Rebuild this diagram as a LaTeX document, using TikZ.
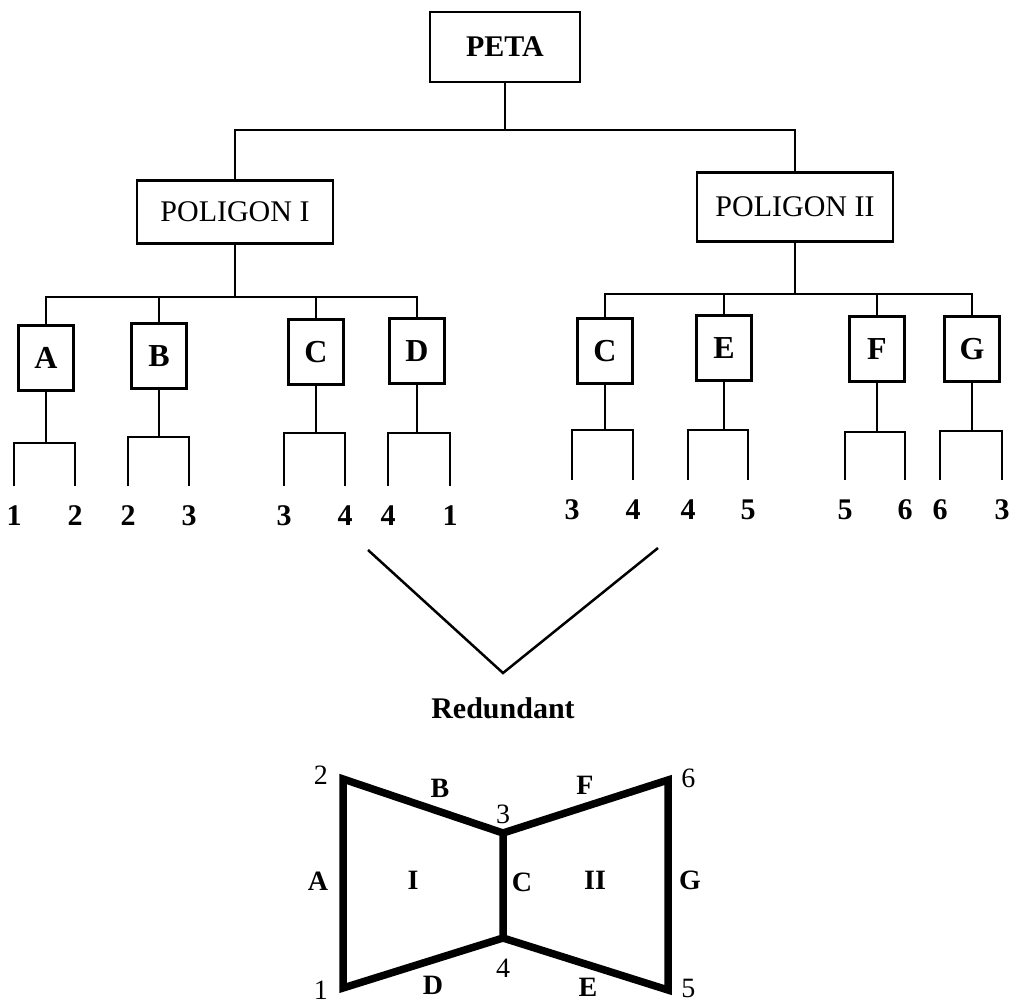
\documentclass[tikz,border=0pt]{standalone}
\usepackage{fontspec}
\setmainfont{Liberation Serif}
\usetikzlibrary{positioning}

\begin{document}
\begin{tikzpicture}[
        x=1pt, y=-1pt,
        line width=2.5pt,
        font=\fontsize{30}{36}\selectfont,
        box/.style={rectangle, draw, line width=2.5pt, inner sep=0pt, align=center},
        leaf/.style={box, minimum width=55pt, minimum height=65pt, font=\fontsize{32}{38}\selectfont\bfseries},
        pt/.style={inner sep=0pt, outer ysep=20pt, font=\fontsize{30}{36}\selectfont\bfseries},
        edge/.style={line width=7.5pt, line join=miter},
        tag/.style={inner sep=0pt, font=\fontsize{28}{32}\selectfont},
        side/.style={tag, font=\fontsize{28}{32}\selectfont\bfseries}
    ]
    \useasboundingbox (0,0) rectangle (1018,1004);

    % Tree
    \node (peta) [box, minimum width=150pt, minimum height=70pt, font=\fontsize{30}{36}\selectfont\bfseries] at (505,47) {PETA};
    \node (pol1) [box, minimum width=196pt, minimum height=63pt] at (235,212) {POLIGON I};
    \node (pol2) [box, minimum width=196pt, minimum height=69pt] at (795,207) {POLIGON II};

    \coordinate (top) at (505,130);
    \coordinate (bar1) at (235,297);
    \coordinate (bar2) at (795,294);

    \node (a) [leaf] at (46,358) {A};
    \node (b) [leaf] at (159,356) {B};
    \node (c) [leaf] at (316,352) {C};
    \node (d) [leaf] at (417,351) {D};
    \node (c2) [leaf] at (605,351) {C};
    \node (e) [leaf] at (724,348) {E};
    \node (f) [leaf] at (877,349) {F};
    \node (g) [leaf] at (972,349) {G};

    % Edge ends
    \node (a1) [pt] at (14,516) {1};
    \node (a2) [pt] at (75,516) {2};
    \node (b1) [pt] at (128,516) {2};
    \node (b2) [pt] at (189,516) {3};
    \node (c1) [pt] at (284,516) {3};
    \node (c2b) [pt] at (345,516) {4};
    \node (d1) [pt] at (388,516) {4};
    \node (d2) [pt] at (450,516) {1};
    \node (c21) [pt] at (572,510) {3};
    \node (c22) [pt] at (633,510) {4};
    \node (e1) [pt] at (688,510) {4};
    \node (e2) [pt] at (748,510) {5};
    \node (f1) [pt] at (845,510) {5};
    \node (f2) [pt] at (905,510) {6};
    \node (g1) [pt] at (940,510) {6};
    \node (g2) [pt] at (1002,510) {3};

    \coordinate (fa) at (46,443);
    \coordinate (fb) at (159,437);
    \coordinate (fc) at (316,433);
    \coordinate (fd) at (417,433);
    \coordinate (fc2) at (605,430);
    \coordinate (fe) at (724,430);
    \coordinate (ff) at (877,432);
    \coordinate (fg) at (972,431);

    % Lines
    \draw (peta) -- (top);
    \draw (pol1) |- (top) -| (pol2);

    \draw (pol1) -- (bar1);
    \draw (a) |- (bar1) -| (d);
    \draw (b) -- (b |- bar1);
    \draw (c) -- (c |- bar1);

    \draw (pol2) -- (bar2);
    \draw (c2) |- (bar2) -| (g);
    \draw (e) -- (e |- bar2);
    \draw (f) -- (f |- bar2);

    \draw (a) -- (fa);  \draw (a1) |- (fa) -| (a2);
    \draw (b) -- (fb);  \draw (b1) |- (fb) -| (b2);
    \draw (c) -- (fc);  \draw (c1) |- (fc) -| (c2b);
    \draw (d) -- (fd);  \draw (d1) |- (fd) -| (d2);
    \draw (c2) -- (fc2); \draw (c21) |- (fc2) -| (c22);
    \draw (e) -- (fe);  \draw (e1) |- (fe) -| (e2);
    \draw (f) -- (ff);  \draw (f1) |- (ff) -| (f2);
    \draw (g) -- (fg);  \draw (g1) |- (fg) -| (g2);

    % Redundant
    \coordinate (rl) at (368,550);
    \coordinate (rr) at (658,548);
    \coordinate (rv) at (503,673);
    \node (red) [font=\fontsize{30}{36}\selectfont\bfseries] at (503,708) {Redundant};
    \draw (rl) -- (rv) -- (rr);

    % Polygons
    \coordinate (v1) at (343,988);
    \coordinate (v2) at (343,779);
    \coordinate (v3) at (503,833);
    \coordinate (v4) at (503,938);
    \coordinate (v5) at (668,990);
    \coordinate (v6) at (668,780);

    \draw [edge] (v2) -- (v3) -- (v4) -- (v1) -- cycle;
    \draw [edge] (v3) -- (v6) -- (v5) -- (v4);

    \node (n2) [tag, left=14pt of v2, yshift=4pt] {2};
    \node (n3) [tag, above=8pt of v3] {3};
    \node (n6) [tag, right=12pt of v6, yshift=2pt] {6};
    \node (n1) [tag, left=14pt of v1, yshift=-2pt] {1};
    \node (n4) [tag, below=20pt of v4] {4};
    \node (n5) [tag, right=12pt of v5, yshift=2pt] {5};

    \node (sa) [side] at (318,881) {A};
    \node (sb) [side] at (440,788) {B};
    \node (sc) [side] at (522,882) {C};
    \node (sd) [side] at (433,985) {D};
    \node (se) [side] at (588,987) {E};
    \node (sf) [side] at (585,785) {F};
    \node (sg) [side] at (690,880) {G};
    \node (p1) [side] at (413,880) {I};
    \node (p2) [side] at (595,880) {II};

\end{tikzpicture}
\end{document}
